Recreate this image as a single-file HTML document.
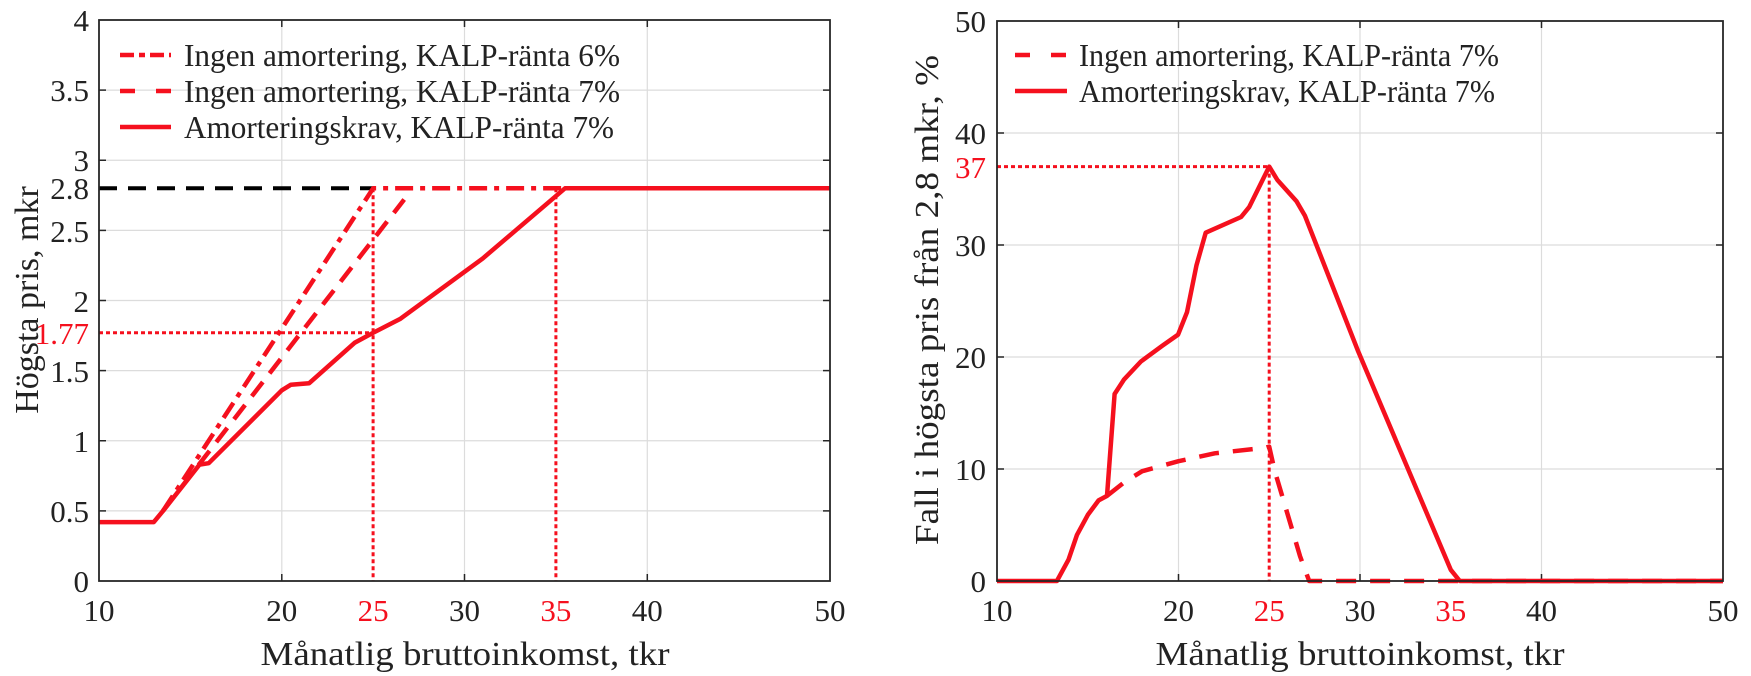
<!DOCTYPE html>
<html><head><meta charset="utf-8"><style>
html,body{margin:0;padding:0;background:#fff;}
svg{display:block;}
text{font-family:"Liberation Serif",serif;fill:#222;}
</style></head><body>
<svg width="1751" height="676" viewBox="0 0 1751 676" xmlns="http://www.w3.org/2000/svg">
<!-- LEFT PLOT -->
<g stroke="#dcdcdc" stroke-width="1.2">
<line x1="281.8" y1="20" x2="281.8" y2="581"/><line x1="464.5" y1="20" x2="464.5" y2="581"/><line x1="647.3" y1="20" x2="647.3" y2="581"/>
<line x1="99" y1="510.9" x2="830" y2="510.9"/><line x1="99" y1="440.75" x2="830" y2="440.75"/><line x1="99" y1="370.6" x2="830" y2="370.6"/>
<line x1="99" y1="300.5" x2="830" y2="300.5"/><line x1="99" y1="230.4" x2="830" y2="230.4"/><line x1="99" y1="160.25" x2="830" y2="160.25"/><line x1="99" y1="90.1" x2="830" y2="90.1"/>
</g>
<g stroke="#262626" stroke-width="1.5">
<line x1="281.8" y1="581" x2="281.8" y2="574"/><line x1="464.5" y1="581" x2="464.5" y2="574"/><line x1="647.3" y1="581" x2="647.3" y2="574"/>
<line x1="281.8" y1="20" x2="281.8" y2="27"/><line x1="464.5" y1="20" x2="464.5" y2="27"/><line x1="647.3" y1="20" x2="647.3" y2="27"/>
<line x1="99" y1="510.9" x2="106" y2="510.9"/><line x1="99" y1="440.75" x2="106" y2="440.75"/><line x1="99" y1="370.6" x2="106" y2="370.6"/><line x1="99" y1="300.5" x2="106" y2="300.5"/><line x1="99" y1="230.4" x2="106" y2="230.4"/><line x1="99" y1="160.25" x2="106" y2="160.25"/><line x1="99" y1="90.1" x2="106" y2="90.1"/>
<line x1="830" y1="510.9" x2="823" y2="510.9"/><line x1="830" y1="440.75" x2="823" y2="440.75"/><line x1="830" y1="370.6" x2="823" y2="370.6"/><line x1="830" y1="300.5" x2="823" y2="300.5"/><line x1="830" y1="230.4" x2="823" y2="230.4"/><line x1="830" y1="160.25" x2="823" y2="160.25"/><line x1="830" y1="90.1" x2="823" y2="90.1"/>
</g>
<line x1="99" y1="188.3" x2="373" y2="188.3" stroke="#000" stroke-width="4" stroke-dasharray="18,11"/>
<g stroke="#f5101e" stroke-width="3" stroke-dasharray="4,3" fill="none">
<line x1="99" y1="332.8" x2="373.1" y2="332.8"/>
<line x1="373.1" y1="188.3" x2="373.1" y2="581"/>
<line x1="555.9" y1="188.3" x2="555.9" y2="581"/>
</g>
<g fill="none" stroke="#f5101e" stroke-width="4.5" stroke-linejoin="round">
<polyline points="163,510.9 373.1,188.3 565,188.3" stroke-dasharray="18,7,5,7"/>
<polyline points="163,510.9 404.2,199.5" stroke-dasharray="18,11"/>
<polyline points="99,522.1 153.8,522.1 163,510.9 199.5,464.6 208.7,463.2 281.8,390.3 290.9,384.7 309.2,383.2 354.9,342.6 373.1,332.8 400.5,318.7 482.8,258.4 565,188.3 830,188.3"/>
</g>
<rect x="99" y="20" width="731" height="561" fill="none" stroke="#262626" stroke-width="1.8"/>
<!-- left legend -->
<g stroke="#f5101e" stroke-width="4.5">
<line x1="120" y1="55" x2="171" y2="55" stroke-dasharray="14,5,6,5"/>
<line x1="120" y1="91" x2="171" y2="91" stroke-dasharray="15,21"/>
<line x1="120" y1="127" x2="171" y2="127"/>
</g>
<g font-size="32">
<text x="184" y="66" textLength="436" lengthAdjust="spacingAndGlyphs">Ingen amortering, KALP-ränta 6%</text>
<text x="184" y="102" textLength="436" lengthAdjust="spacingAndGlyphs">Ingen amortering, KALP-ränta 7%</text>
<text x="184" y="138" textLength="430" lengthAdjust="spacingAndGlyphs">Amorteringskrav, KALP-ränta 7%</text>
</g>
<g font-size="31" text-anchor="end">
<text x="89" y="592">0</text><text x="89" y="522">0.5</text><text x="89" y="452">1</text><text x="89" y="382">1.5</text>
<text x="89" y="344" style="fill:#f5101e">1.77</text><text x="89" y="312">2</text><text x="89" y="242">2.5</text>
<text x="89" y="199">2.8</text><text x="89" y="171">3</text><text x="89" y="101">3.5</text><text x="89" y="31">4</text>
</g>
<g font-size="31" text-anchor="middle">
<text x="99" y="621">10</text><text x="281.8" y="621">20</text><text x="373.1" y="621" style="fill:#f5101e">25</text><text x="464.5" y="621">30</text>
<text x="555.9" y="621" style="fill:#f5101e">35</text><text x="647.3" y="621">40</text><text x="830" y="621">50</text>
</g>
<text x="465" y="665" font-size="34" text-anchor="middle" textLength="409" lengthAdjust="spacingAndGlyphs">Månatlig bruttoinkomst, tkr</text>
<text transform="translate(38,300) rotate(-90)" font-size="34" text-anchor="middle">Högsta pris, mkr</text>

<!-- RIGHT PLOT -->
<g stroke="#dcdcdc" stroke-width="1.2">
<line x1="1178.5" y1="21" x2="1178.5" y2="581"/><line x1="1360" y1="21" x2="1360" y2="581"/><line x1="1541.5" y1="21" x2="1541.5" y2="581"/>
<line x1="997" y1="469" x2="1723" y2="469"/><line x1="997" y1="357" x2="1723" y2="357"/><line x1="997" y1="245" x2="1723" y2="245"/><line x1="997" y1="133" x2="1723" y2="133"/>
</g>
<g stroke="#262626" stroke-width="1.5">
<line x1="1178.5" y1="581" x2="1178.5" y2="574"/><line x1="1360" y1="581" x2="1360" y2="574"/><line x1="1541.5" y1="581" x2="1541.5" y2="574"/>
<line x1="1178.5" y1="21" x2="1178.5" y2="28"/><line x1="1360" y1="21" x2="1360" y2="28"/><line x1="1541.5" y1="21" x2="1541.5" y2="28"/>
<line x1="997" y1="469" x2="1004" y2="469"/><line x1="997" y1="357" x2="1004" y2="357"/><line x1="997" y1="245" x2="1004" y2="245"/><line x1="997" y1="133" x2="1004" y2="133"/>
<line x1="1723" y1="469" x2="1716" y2="469"/><line x1="1723" y1="357" x2="1716" y2="357"/><line x1="1723" y1="245" x2="1716" y2="245"/><line x1="1723" y1="133" x2="1716" y2="133"/>
</g>
<g stroke="#f5101e" stroke-width="3" stroke-dasharray="4,3" fill="none">
<line x1="997" y1="166.6" x2="1269.2" y2="166.6"/>
<line x1="1269.2" y1="166.6" x2="1269.2" y2="581"/>
</g>
<g fill="none" stroke="#f5101e" stroke-width="4.5" stroke-linejoin="round">
<polyline points="1107,495.9 1124.1,482.4 1142.2,471.2 1178.5,461.2 1214.8,453.3 1265.6,447.7 1269.2,446.6 1274.5,470.1 1300.1,556.4 1309.2,581 1723,581" stroke-dasharray="20,14"/>
<polyline points="997,581 1056.9,581 1068.5,559.7 1076.9,535.1 1087.8,514.9 1098.6,500.4 1107,495.9 1114.6,394 1124.1,379.4 1140.9,361.5 1162.2,345.8 1178.1,334.6 1187,312.2 1196.5,265.2 1205.7,232.7 1241.1,217 1249.3,206.9 1269.2,166.6 1277.4,180 1296.5,201.3 1305,215.9 1358.2,351.4 1450.75,569.8 1459.8,581 1723,581"/>
</g>
<rect x="997" y="21" width="726" height="560" fill="none" stroke="#262626" stroke-width="1.8"/>
<g stroke="#f5101e" stroke-width="4.5">
<line x1="1015" y1="55" x2="1067" y2="55" stroke-dasharray="15,21"/>
<line x1="1015" y1="91" x2="1067" y2="91"/>
</g>
<g font-size="32">
<text x="1079" y="66" textLength="420" lengthAdjust="spacingAndGlyphs">Ingen amortering, KALP-ränta 7%</text>
<text x="1079" y="102" textLength="416" lengthAdjust="spacingAndGlyphs">Amorteringskrav, KALP-ränta 7%</text>
</g>
<g font-size="31" text-anchor="end">
<text x="986" y="592">0</text><text x="986" y="480">10</text><text x="986" y="368">20</text><text x="986" y="256">30</text>
<text x="986" y="178" style="fill:#f5101e">37</text><text x="986" y="144">40</text><text x="986" y="32">50</text>
</g>
<g font-size="31" text-anchor="middle">
<text x="997" y="621">10</text><text x="1178.5" y="621">20</text><text x="1269.2" y="621" style="fill:#f5101e">25</text><text x="1360" y="621">30</text>
<text x="1450.75" y="621" style="fill:#f5101e">35</text><text x="1541.5" y="621">40</text><text x="1723" y="621">50</text>
</g>
<text x="1360" y="665" font-size="34" text-anchor="middle" textLength="409" lengthAdjust="spacingAndGlyphs">Månatlig bruttoinkomst, tkr</text>
<text transform="translate(938,300) rotate(-90)" font-size="34" text-anchor="middle" textLength="490" lengthAdjust="spacingAndGlyphs">Fall i högsta pris från 2,8 mkr, %</text>
</svg>
</body></html>
